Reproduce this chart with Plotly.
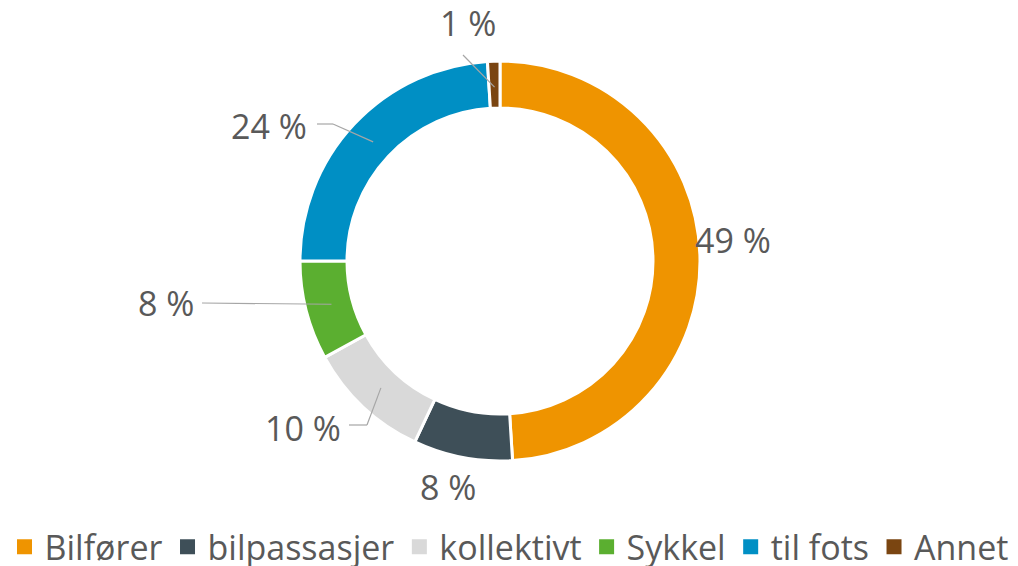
import math
import plotly.graph_objects as go

categories = ["Bilfører", "bilpassasjer", "kollektivt", "Sykkel", "til fots", "Annet"]
values = [49, 8, 10, 8, 24, 1]
label_texts = ["49 %", "8 %", "10 %", "8 %", "24 %", "1 %"]
colors = ["#EF9400", "#3E4F58", "#D9D9D9", "#5BAF30", "#008FC4", "#7A4511"]

W, H = 1018, 566
CX, CY, R = 500, 261, 200
HOLE = 0.765
TEXT_COLOR = "#595959"
FONT = "Open Sans"
FS = 34

# label placement (pixels): text centre, optional elbow, line end
label_layout = [
    dict(text=(733, 240), elbow=None, end=None),
    dict(text=(448, 487), elbow=None, end=None),
    dict(text=(303, 428), elbow=(367, 425), end=(349, 425)),
    dict(text=(166, 303), elbow=None, end=(202, 303)),
    dict(text=(269, 126), elbow=(333, 124), end=(317, 124)),
    dict(text=(468, 23), elbow=None, end=(463, 55)),
]

def px(x):
    return x / W

def py(y):
    return 1 - y / H

fig = go.Figure(go.Pie(
    labels=categories,
    values=values,
    sort=False,
    direction="clockwise",
    rotation=0,
    hole=HOLE,
    textinfo="none",
    hoverinfo="label+percent",
    showlegend=False,
    marker=dict(colors=colors, line=dict(color="white", width=3)),
    domain=dict(x=[px(CX - R), px(CX + R)], y=[py(CY + R), py(CY - R)]),
))

# legend entries (square swatches)
for cat, col in zip(categories, colors):
    fig.add_trace(go.Scatter(
        x=[None], y=[None], mode="markers", name=cat,
        marker=dict(symbol="square", size=15, color=col),
        showlegend=True, hoverinfo="skip",
    ))

total = sum(values)
cum = 0
annotations = []
shapes = []
for v, txt, lay in zip(values, label_texts, label_layout):
    mid = (cum + v / 2) / total * 2 * math.pi
    cum += v
    ar = 174
    ax_ = CX + ar * math.sin(mid)
    ay_ = CY - ar * math.cos(mid)
    annotations.append(dict(
        x=px(lay["text"][0]), y=py(lay["text"][1]), xref="paper", yref="paper",
        text=txt, showarrow=False, xanchor="center", yanchor="middle",
        font=dict(family=FONT, size=FS, color=TEXT_COLOR),
    ))
    if lay["end"] is not None:
        pts = [(ax_, ay_)]
        if lay["elbow"] is not None:
            pts.append(lay["elbow"])
        pts.append(lay["end"])
        for (x0, y0), (x1, y1) in zip(pts[:-1], pts[1:]):
            shapes.append(dict(type="line", xref="paper", yref="paper",
                               x0=px(x0), y0=py(y0), x1=px(x1), y1=py(y1),
                               line=dict(color="#A6A6A6", width=1.2)))

fig.update_layout(
    width=W, height=H,
    margin=dict(l=0, r=0, t=0, b=0, pad=0, autoexpand=False),
    paper_bgcolor="white", plot_bgcolor="white",
    showlegend=True,
    xaxis=dict(visible=False),
    yaxis=dict(visible=False),
    legend=dict(orientation="h", x=0.5, xanchor="center", y=-0.018, yanchor="bottom",
                font=dict(family=FONT, size=FS, color=TEXT_COLOR),
                itemclick=False, itemdoubleclick=False, traceorder="normal",
                bgcolor="rgba(0,0,0,0)"),
    annotations=annotations,
    shapes=shapes,
)

fig.write_html("out.html", config={"displayModeBar": False, "staticPlot": True},
               post_script="document.body.style.margin='0';document.body.style.overflow='hidden';")
